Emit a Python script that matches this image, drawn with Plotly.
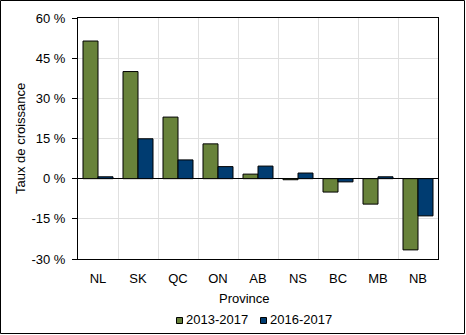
import plotly.graph_objects as go

provinces = ["NL", "SK", "QC", "ON", "AB", "NS", "BC", "MB", "NB"]
growth_2013_2017 = [51.4, 40.0, 23.0, 13.0, 1.7, -0.4, -5.0, -9.5, -26.6]
growth_2016_2017 = [0.7, 14.9, 7.0, 4.5, 4.7, 2.1, -1.2, 0.7, -13.9]
series_names = ["2013-2017", "2016-2017"]
series_colors = ["#68823A", "#003C71"]
y_ticks = [-30, -15, 0, 15, 30, 45, 60]
y_tick_text = [f"{v} %" for v in y_ticks]

W, H = 466, 335
ML, MR, MT, MB = 78, 28, 18, 76
FONT = "Liberation Sans, Arial, sans-serif"
FS = 13
pw, ph = W - ML - MR, H - MT - MB


def px_x(x):
    return (x - ML) / pw


def px_y(y):
    return (H - MB - y) / ph


fig = go.Figure()
for name, color, vals in zip(series_names, series_colors, [growth_2013_2017, growth_2016_2017]):
    fig.add_trace(go.Bar(
        x=provinces, y=vals, name=name,
        marker=dict(color=color, line=dict(color="black", width=1)),
    ))

shapes = [
    # outer frame around the whole figure
    dict(type="rect", xref="paper", yref="paper",
         x0=px_x(0.5), x1=px_x(W - 1.5), y0=px_y(H - 1.5), y1=px_y(0.5),
         line=dict(color="black", width=1), layer="above"),
]
annotations = [
    dict(text="Taux de croissance", xref="paper", yref="paper",
         x=px_x(20), y=px_y(138), textangle=-90, showarrow=False,
         xanchor="center", yanchor="middle", font=dict(size=FS)),
    dict(text="Province", xref="paper", yref="paper",
         x=px_x(244), y=px_y(298), showarrow=False,
         xanchor="center", yanchor="middle", font=dict(size=FS)),
]

# legend: small outlined squares followed by the series name
legend_x = [176, 260]
for name, color, lx in zip(series_names, series_colors, legend_x):
    shapes.append(dict(type="rect", xref="paper", yref="paper",
                       x0=px_x(lx + 0.5), x1=px_x(lx + 6.5),
                       y0=px_y(323.5), y1=px_y(317.5),
                       fillcolor=color, line=dict(color="black", width=1)))
    annotations.append(dict(text=name, xref="paper", yref="paper",
                            x=px_x(lx + 8), y=px_y(319.5), showarrow=False,
                            xanchor="left", yanchor="middle", font=dict(size=FS)))

fig.update_layout(
    width=W, height=H,
    margin=dict(l=ML, r=MR, t=MT, b=MB, autoexpand=False),
    paper_bgcolor="white", plot_bgcolor="white",
    font=dict(family=FONT, size=FS, color="black"),
    barmode="group", bargap=0.25, bargroupgap=0,
    showlegend=False,
    shapes=shapes, annotations=annotations,
    xaxis=dict(
        automargin=False,
        tickson="boundaries", showgrid=True, gridcolor="#E0E0E0", gridwidth=1,
        showline=True, linecolor="black", linewidth=1, mirror=True,
        ticks="", ticklabelstandoff=7,
    ),
    yaxis=dict(
        automargin=False,
        range=[-30, 60], tickvals=y_ticks, ticktext=y_tick_text,
        showgrid=True, gridcolor="#E0E0E0", gridwidth=1,
        zeroline=True, zerolinecolor="black", zerolinewidth=1,
        showline=True, linecolor="black", linewidth=1, mirror=True,
        ticks="outside", ticklen=5, tickcolor="black", tickwidth=1,
        ticklabelstandoff=4,
    ),
)

fig.write_html("out.html")
